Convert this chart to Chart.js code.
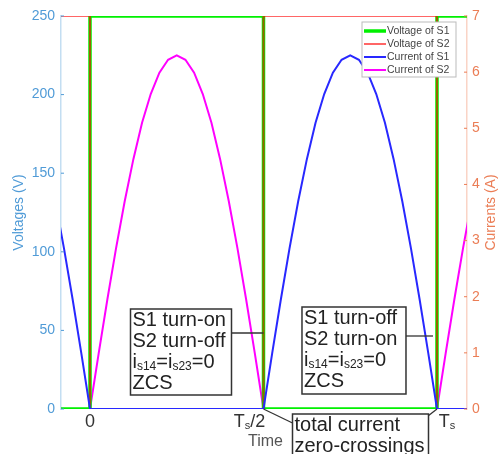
<!DOCTYPE html>
<html>
<head>
<meta charset="utf-8">
<script src="https://cdn.jsdelivr.net/npm/chart.js@4.4.1/dist/chart.umd.min.js"></script>
<style>
  html, body { margin: 0; padding: 0; background: #fff; }
  canvas { display: block; }
</style>
</head>
<body>
<canvas id="graf" width="499" height="454"></canvas>
<script>
// time in units of Ts
const tVolt = [-0.1, 0, 0, 0.5, 0.5, 1, 1, 1.1]
const voltS1 = [0, 0, 250, 250, 0, 0, 250, 250]
const voltS2 = [250, 250, 0, 0, 250, 250, 0, 0]

// current of S1: tail before 0, flat to Ts/2, hump to Ts, flat after
const tCurrS1 = [-0.1, -0.075, -0.05, -0.025, 0, 0.5,
  0.525, 0.55, 0.575, 0.6, 0.625, 0.65, 0.675, 0.7, 0.725, 0.75,
  0.775, 0.8, 0.825, 0.85, 0.875, 0.9, 0.925, 0.95, 0.975, 1, 1.1]
const currS1 = [3.7, 2.86, 1.95, 0.99, 0, 0,
  0.99, 1.95, 2.86, 3.7, 4.45, 5.1, 5.61, 5.99, 6.22, 6.3,
  6.22, 5.99, 5.61, 5.1, 4.45, 3.7, 2.86, 1.95, 0.99, 0, 0]

// current of S2: flat before 0, hump to Ts/2, flat to Ts, rising after
const tCurrS2 = [-0.1, 0,
  0.025, 0.05, 0.075, 0.1, 0.125, 0.15, 0.175, 0.2, 0.225, 0.25,
  0.275, 0.3, 0.325, 0.35, 0.375, 0.4, 0.425, 0.45, 0.475, 0.5,
  1, 1.025, 1.05, 1.075, 1.1]
const currS2 = [0, 0,
  0.99, 1.95, 2.86, 3.7, 4.45, 5.1, 5.61, 5.99, 6.22, 6.3,
  6.22, 5.99, 5.61, 5.1, 4.45, 3.7, 2.86, 1.95, 0.99, 0,
  0, 0.99, 1.95, 2.86, 3.7]

const xTicks = [0, 0.5, 1]
const xTickLabels = [['0', ''], ['T', 's', '/2'], ['T', 's', '']]
const leftTitle = 'Voltages (V)'
const rightTitle = 'Currents (A)'
const xTitle = 'Time'

const corYL = 'rgb(80, 155, 215)'
const corYR = 'rgb(235, 125, 85)'
const fonte = '"Liberation Sans", Arial, sans-serif'

function pts(xs, ys) {
  return xs.map((x, i) => ({ x: x, y: ys[i] }))
}

// text with subscripts: parts = [[text, isSub], ...]
function textoSub(ctx, parts, x, y, size) {
  let cx = x
  parts.forEach(p => {
    if (!p[0]) return
    if (p[1]) {
      ctx.font = Math.round(size * 0.62) + 'px ' + fonte
      ctx.fillText(p[0], cx, y + size * 0.22)
    } else {
      ctx.font = size + 'px ' + fonte
      ctx.fillText(p[0], cx, y)
    }
    cx += ctx.measureText(p[0]).width
  })
  return cx - x
}

function caixa(ctx, x, y, w, h, linhas, size, lh) {
  ctx.fillStyle = '#fff'
  ctx.fillRect(x, y, w, h)
  ctx.strokeStyle = '#333'
  ctx.lineWidth = 1.5
  ctx.strokeRect(x, y, w, h)
  ctx.fillStyle = '#222'
  ctx.textAlign = 'left'
  ctx.textBaseline = 'middle'
  linhas.forEach((l, i) => textoSub(ctx, l, x + 2, y + 11 + i * lh, size))
}

function linha(ctx, x1, y1, x2, y2) {
  ctx.strokeStyle = '#333'
  ctx.lineWidth = 1.3
  ctx.beginPath()
  ctx.moveTo(x1, y1)
  ctx.lineTo(x2, y2)
  ctx.stroke()
}

const extras = {
  id: 'extras',
  afterDraw(chart) {
    const ctx = chart.ctx
    const a = chart.chartArea
    const sx = chart.scales.x, sy = chart.scales.y, sy1 = chart.scales.y1
    ctx.save()

    // inner tick marks
    ctx.lineWidth = 1
    ctx.strokeStyle = corYL
    sy.ticks.forEach(t => {
      const py = sy.getPixelForValue(t.value)
      ctx.beginPath(); ctx.moveTo(a.left, py); ctx.lineTo(a.left + 3, py); ctx.stroke()
    })
    ctx.strokeStyle = corYR
    sy1.ticks.forEach(t => {
      const py = sy1.getPixelForValue(t.value)
      ctx.beginPath(); ctx.moveTo(a.right - 3, py); ctx.lineTo(a.right, py); ctx.stroke()
    })

    // axis titles
    const midY = (a.top + a.bottom) / 2
    ctx.font = '14px ' + fonte
    ctx.textAlign = 'center'
    ctx.textBaseline = 'middle'
    ctx.fillStyle = corYL
    ctx.save(); ctx.translate(19, midY); ctx.rotate(-Math.PI / 2); ctx.fillText(leftTitle, 0, 0); ctx.restore()
    ctx.fillStyle = corYR
    ctx.save(); ctx.translate(491, midY); ctx.rotate(-Math.PI / 2); ctx.fillText(rightTitle, 0, 0); ctx.restore()

    // x tick labels
    const offs = [0, -14, 10]
    ctx.fillStyle = '#333'
    ctx.textAlign = 'left'
    xTicks.forEach((v, i) => {
      const parts = [[xTickLabels[i][0], 0], [xTickLabels[i][1], 1], [xTickLabels[i][2], 0]]
      ctx.globalAlpha = 0
      const w = textoSub(ctx, parts, 0, 0, 18)
      ctx.globalAlpha = 1
      textoSub(ctx, parts, sx.getPixelForValue(v) + offs[i] - w / 2, a.bottom + 13, 18)
    })
    ctx.fillStyle = '#555'
    ctx.font = '16px ' + fonte
    ctx.textAlign = 'center'
    ctx.fillText(xTitle, sx.getPixelForValue(0.5) + 2, a.bottom + 33)

    // annotations
    const xh = sx.getPixelForValue(0.5), xt = sx.getPixelForValue(1), y0 = sy.getPixelForValue(0)
    const iLinha = [['i', 0], ['s14', 1], ['=', 0], ['i', 0], ['s23', 1], ['=0', 0]]
    linha(ctx, xh - 32, 333, xh, 333)
    caixa(ctx, xh - 133, 309, 101, 86, [[['S1 turn-on', 0]], [['S2 turn-off', 0]], iLinha, [['ZCS', 0]]], 20, 21)
    linha(ctx, xt - 31, 336, xt - 4, 336)
    caixa(ctx, xt - 135, 307, 104, 87, [[['S1 turn-off', 0]], [['S2 turn-on', 0]], iLinha, [['ZCS', 0]]], 20, 21)
    linha(ctx, xh, y0, xh + 29, y0 + 14)
    linha(ctx, xt - 9, y0 + 7, xt, y0)
    caixa(ctx, xh + 29, 414, 136, 50, [[['total current', 0]], [['zero-crossings', 0]]], 20, 21)

    // legend
    const lx = 362, ly = 22, lw = 94, lh = 55
    ctx.fillStyle = '#fff'
    ctx.fillRect(lx, ly, lw, lh)
    ctx.strokeStyle = '#bbb'
    ctx.lineWidth = 1
    ctx.strokeRect(lx, ly, lw, lh)
    ctx.font = '10.5px ' + fonte
    ctx.textAlign = 'left'
    ctx.textBaseline = 'middle'
    chart.data.datasets.forEach((d, i) => {
      const yy = ly + 9 + i * 13
      ctx.strokeStyle = d.borderColor
      ctx.lineWidth = d.borderWidth
      ctx.beginPath(); ctx.moveTo(lx + 2, yy); ctx.lineTo(lx + 24, yy); ctx.stroke()
      ctx.fillStyle = '#444'
      ctx.fillText(d.label, lx + 25, yy)
    })
    ctx.restore()
  }
}

new Chart(document.getElementById('graf'), {
  type: 'line',
  data: {
    datasets: [
      {
        label: 'Voltage of S1',
        data: pts(tVolt, voltS1),
        borderColor: 'rgb(0, 240, 0)',
        borderWidth: 3.5,
        pointRadius: 0,
        yAxisID: 'y',
        order: 2
      },
      {
        label: 'Voltage of S2',
        data: pts(tVolt, voltS2),
        borderColor: 'rgba(255, 0, 0, 0.6)',
        borderWidth: 2,
        pointRadius: 0,
        yAxisID: 'y',
        order: 1
      },
      {
        label: 'Current of S1',
        data: pts(tCurrS1, currS1),
        borderColor: 'rgb(40, 40, 255)',
        borderWidth: 2,
        pointRadius: 0,
        yAxisID: 'y1',
        order: 0
      },
      {
        label: 'Current of S2',
        data: pts(tCurrS2, currS2),
        borderColor: 'rgb(255, 0, 255)',
        borderWidth: 2,
        pointRadius: 0,
        yAxisID: 'y1',
        order: 3
      }
    ]
  },
  options: {
    responsive: false,
    animation: false,
    devicePixelRatio: 1,
    layout: { padding: { top: 16, left: 0, right: 0, bottom: 0 } },
    plugins: { legend: { display: false }, tooltip: { enabled: false } },
    scales: {
      x: {
        type: 'linear',
        min: -0.0836,
        max: 1.0865,
        ticks: { display: false },
        grid: { display: false, drawTicks: false },
        border: { display: false },
        afterFit(s) { s.height = 45 }
      },
      y: {
        position: 'left',
        min: 0,
        max: 250,
        ticks: { stepSize: 50, color: corYL, padding: 6, font: { size: 14, family: fonte } },
        grid: { display: false, drawTicks: false },
        border: { color: 'rgb(195, 222, 242)', width: 1.5 },
        afterFit(s) { s.width = 61 }
      },
      y1: {
        position: 'right',
        min: 0,
        max: 7,
        ticks: { stepSize: 1, color: corYR, padding: 5, font: { size: 14, family: fonte } },
        grid: { display: false, drawTicks: false },
        border: { color: 'rgb(250, 212, 198)', width: 1.5 },
        afterFit(s) { s.width = 32 }
      }
    }
  },
  plugins: [extras]
});
</script>
</body>
</html>
